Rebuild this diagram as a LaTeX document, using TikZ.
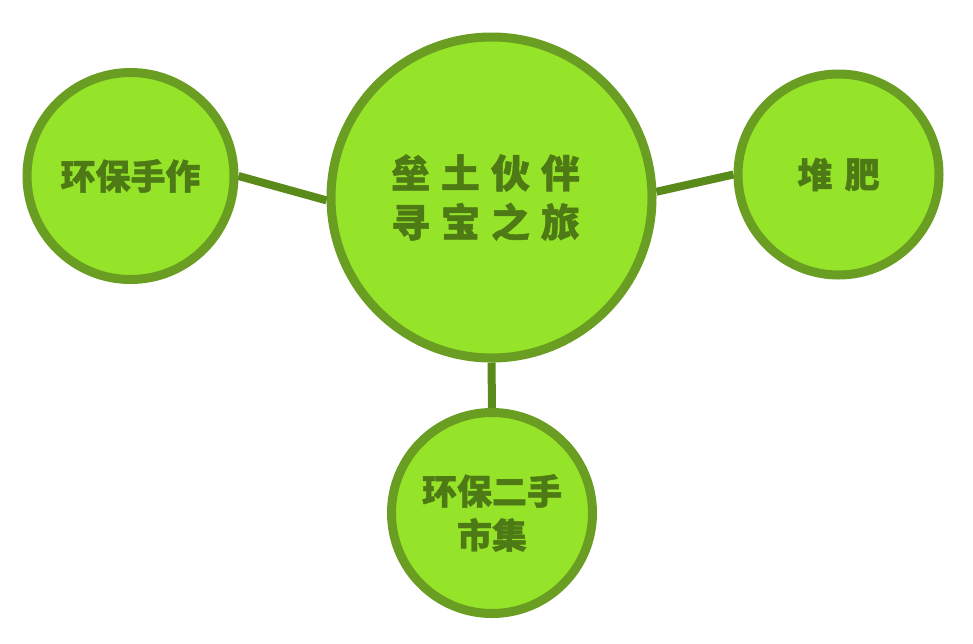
\documentclass[tikz,border=0pt]{standalone}
\usepackage{fontspec}
\newfontfamily\cjk{Noto Sans CJK SC}[BoldFeatures={FakeBold=1.2}]
\definecolor{bubblefill}{HTML}{96E42A}
\definecolor{bubbleedge}{HTML}{6A9E22}
\definecolor{bubbletext}{HTML}{4E7A16}
\definecolor{linkcol}{HTML}{5A8A1A}
\begin{document}
\begin{tikzpicture}[x=1pt,y=-1pt,
  bubble/.style={circle, draw=bubbleedge, fill=bubblefill, line width=9pt, inner sep=0pt,
    text=bubbletext, align=center, font=\cjk\bfseries\fontsize{35}{44}\selectfont},
  link/.style={draw=linkcol, line width=8pt}]
\useasboundingbox[fill=white] (0,0) rectangle (973,643);
\node[bubble, minimum size=321pt, font=\cjk\bfseries\fontsize{39}{49}\selectfont] (hub) at (491.5,197.5)
  {\raisebox{-4pt}{垒\hspace{0.28em}土\hspace{0.28em}伙\hspace{0.28em}伴\kern12pt}\\\raisebox{-4pt}{寻\hspace{0.28em}宝\hspace{0.28em}之\hspace{0.28em}旅\kern12pt}};
\node[bubble, minimum size=207pt] (craft) at (130.5,176) {环保手作};
\node[bubble, minimum size=201pt] (compost) at (838.5,174.5) {堆\hspace{0.35em}肥};
\node[bubble, minimum size=201pt] (market) at (492,513) {\raisebox{-3pt}{环保二手}\\\raisebox{-3pt}{市集}};
\draw[link] (craft.east) -- (hub.181.6);
\draw[link] (hub.2.6) -- (compost.west);
\draw[link] (hub.south) -- (market.north);
\end{tikzpicture}
\end{document}
